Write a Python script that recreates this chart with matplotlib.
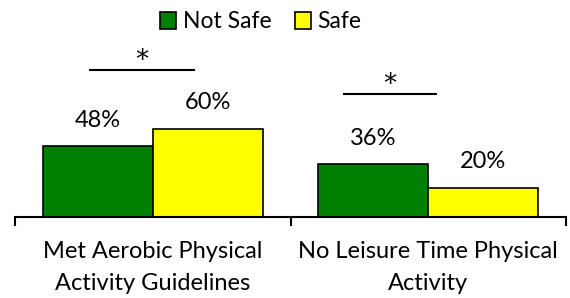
import matplotlib
matplotlib.use("Agg")
import matplotlib.pyplot as plt
import numpy as np

categories = ["Met Aerobic Physical\nActivity Guidelines", "No Leisure Time Physical\nActivity"]
series_names = ["Not Safe", "Safe"]
not_safe = [48, 36]
safe = [60, 20]
sig_line_y = [100, 83.5]
sig_line_x = [(-0.233, 0.152), (-0.309, 0.033)]

plt.rcParams['font.family'] = ['Lato', 'DejaVu Sans']

W, H = 570, 298
fig = plt.figure(figsize=(W/100, H/100), dpi=100)
left, right, bottom_px = 15, 566, 217
ymax = 140
scale = 1.47
top_px = bottom_px - ymax*scale
ax = fig.add_axes([left/W, (H-bottom_px)/H, (right-left)/W, (bottom_px-top_px)/H])

x = np.arange(len(categories))
w = 0.4
colors = ["#008000", "#FFFF00"]
b1 = ax.bar(x - w/2, not_safe, w, color=colors[0], edgecolor="black", linewidth=1.2, label=series_names[0])
b2 = ax.bar(x + w/2, safe, w, color=colors[1], edgecolor="black", linewidth=1.2, label=series_names[1])

for bars, vals in ((b1, not_safe), (b2, safe)):
    for b, v in zip(bars, vals):
        ax.annotate(f"{v}%", (b.get_x()+b.get_width()/2, v), xytext=(0, 26),
                    textcoords="offset pixels", ha="center", va="center", fontsize=17)

for i, (yy, (x0, x1)) in enumerate(zip(sig_line_y, sig_line_x)):
    ax.plot([i + x0, i + x1], [yy, yy], color="black", lw=1.5, solid_capstyle="butt")
    ax.annotate("*", ((2*i + x0 + x1)/2, yy), xytext=(0, 9), textcoords="offset pixels",
                ha="center", va="center", fontsize=19, family="DejaVu Sans")

ax.set_xlim(-0.5, 1.5)
ax.set_ylim(0, ymax)
for s in ["top", "right", "left"]:
    ax.spines[s].set_visible(False)
ax.spines["bottom"].set_linewidth(1.5)
ax.set_yticks([])
ax.set_xticks([-0.5, 0.5, 1.5])
ax.set_xticklabels([])
ax.tick_params(axis="x", length=6.5, width=1.5, direction="out")
for i, c in enumerate(categories):
    for j, line in enumerate(c.split("\n")):
        ax.annotate(line, (i, 0), xytext=(0, -35 - 31*j), textcoords="offset pixels",
                    ha="center", va="center", fontsize=17, annotation_clip=False)

fig.legend(handles=[b1, b2], labels=series_names, loc="center", bbox_to_anchor=(261/W, 1 - 22/H),
           ncol=2, frameon=False, fontsize=16.5, handlelength=0.7, handleheight=0.7,
           columnspacing=1.0, handletextpad=0.3, borderpad=0)

fig.savefig("out.png", dpi=100)
